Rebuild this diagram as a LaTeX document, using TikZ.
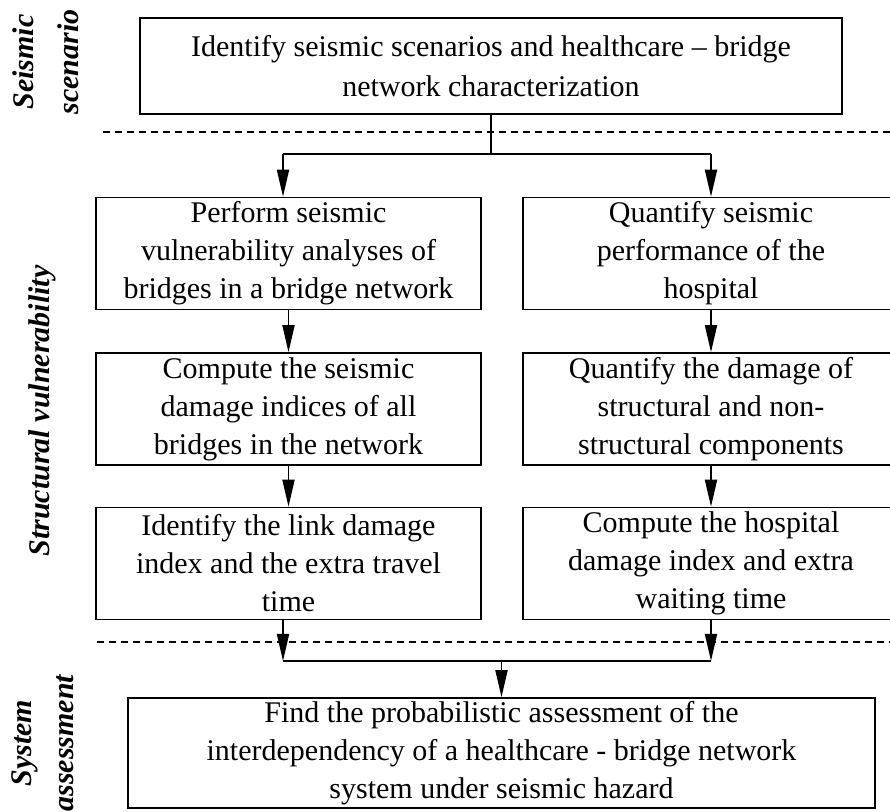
\documentclass[tikz,border=0pt]{standalone}
\usepackage{fontspec}
\setmainfont{Liberation Serif}
\usepackage{tikz}
\usetikzlibrary{arrows.meta}

\begin{document}
\begin{tikzpicture}[x=0.5pt, y=-0.5pt,
  box/.style={draw, line width=0.8pt, align=center, inner sep=0pt,
    font=\fontsize{15}{19}\selectfont},
  lbox/.style={box, minimum width=192.5pt, minimum height=56pt},
  rbox/.style={box, minimum width=188pt, minimum height=56pt},
  side/.style={rotate=90, align=center, font=\fontsize{15}{21}\selectfont\bfseries\itshape},
  conn/.style={line width=0.9pt},
  arr/.style={conn, -{Triangle[length=13.5pt, width=6pt]}},
  sep/.style={line width=0.6pt, dash pattern=on 3.5pt off 2.5pt}]
\useasboundingbox (0,0) rectangle (890,812);

% stage labels
\node[side] (lseis) at (46,62) {Seismic\\[1.5pt]scenario};
\node[side] (lstru) at (42,411) {Structural vulnerability};
\node[side] (lsyst) at (43,743) {System\\assessment};

% stage borders
\draw[sep] (103,132) -- (895,132);
\draw[sep] (97,642) -- (895,642);

% boxes
\node[box, minimum width=351pt, minimum height=48pt, font=\fontsize{15}{20}\selectfont] (top) at (491,66)
  {Identify seismic scenarios and healthcare -- bridge\\network characterization};
\node[lbox] (perf) at (288.5,253.5) {Perform seismic\\vulnerability analyses of\\bridges in a bridge network};
\node[rbox] (quant) at (711,253.5) {Quantify seismic\\performance of the\\hospital};
\node[lbox] (compb) at (288.5,409) {Compute the seismic\\damage indices of all\\bridges in the network};
\node[rbox] (quantd) at (711,409) {Quantify the damage of\\structural and non-\\structural components};
\node[lbox] (link) at (288.5,563.5) {Identify the link damage\\index and the extra travel\\time};
\node[rbox] (hosp) at (711,563.5) {Compute the hospital\\damage index and extra\\waiting time};
\node[box, minimum width=373.5pt, minimum height=55pt] (find) at (501.5,753)
  {Find the probabilistic assessment of the\\interdependency of a healthcare - bridge network\\system under seismic hazard};

% split
\coordinate (splitL) at (283,154);
\coordinate (splitR) at (711,154);
\draw[conn] (top.south) -- (top.south |- splitL);
\draw[conn] (splitL) -- (splitR);
\draw[arr] (splitL) -- (splitL |- perf.north);
\draw[arr] (splitR) -- (quant.north);

% columns
\draw[arr] (perf) -- (compb);
\draw[arr] (compb) -- (link);
\draw[arr] (quant) -- (quantd);
\draw[arr] (quantd) -- (hosp);

% join
\coordinate (joinL) at (283,661);
\coordinate (joinR) at (711,661);
\draw[arr] (joinL |- link.south) -- (joinL);
\draw[arr] (hosp) -- (joinR);
\draw[conn] (joinL) -- (joinR);
\draw[arr] (find.north |- joinL) -- (find.north);
\end{tikzpicture}
\end{document}
